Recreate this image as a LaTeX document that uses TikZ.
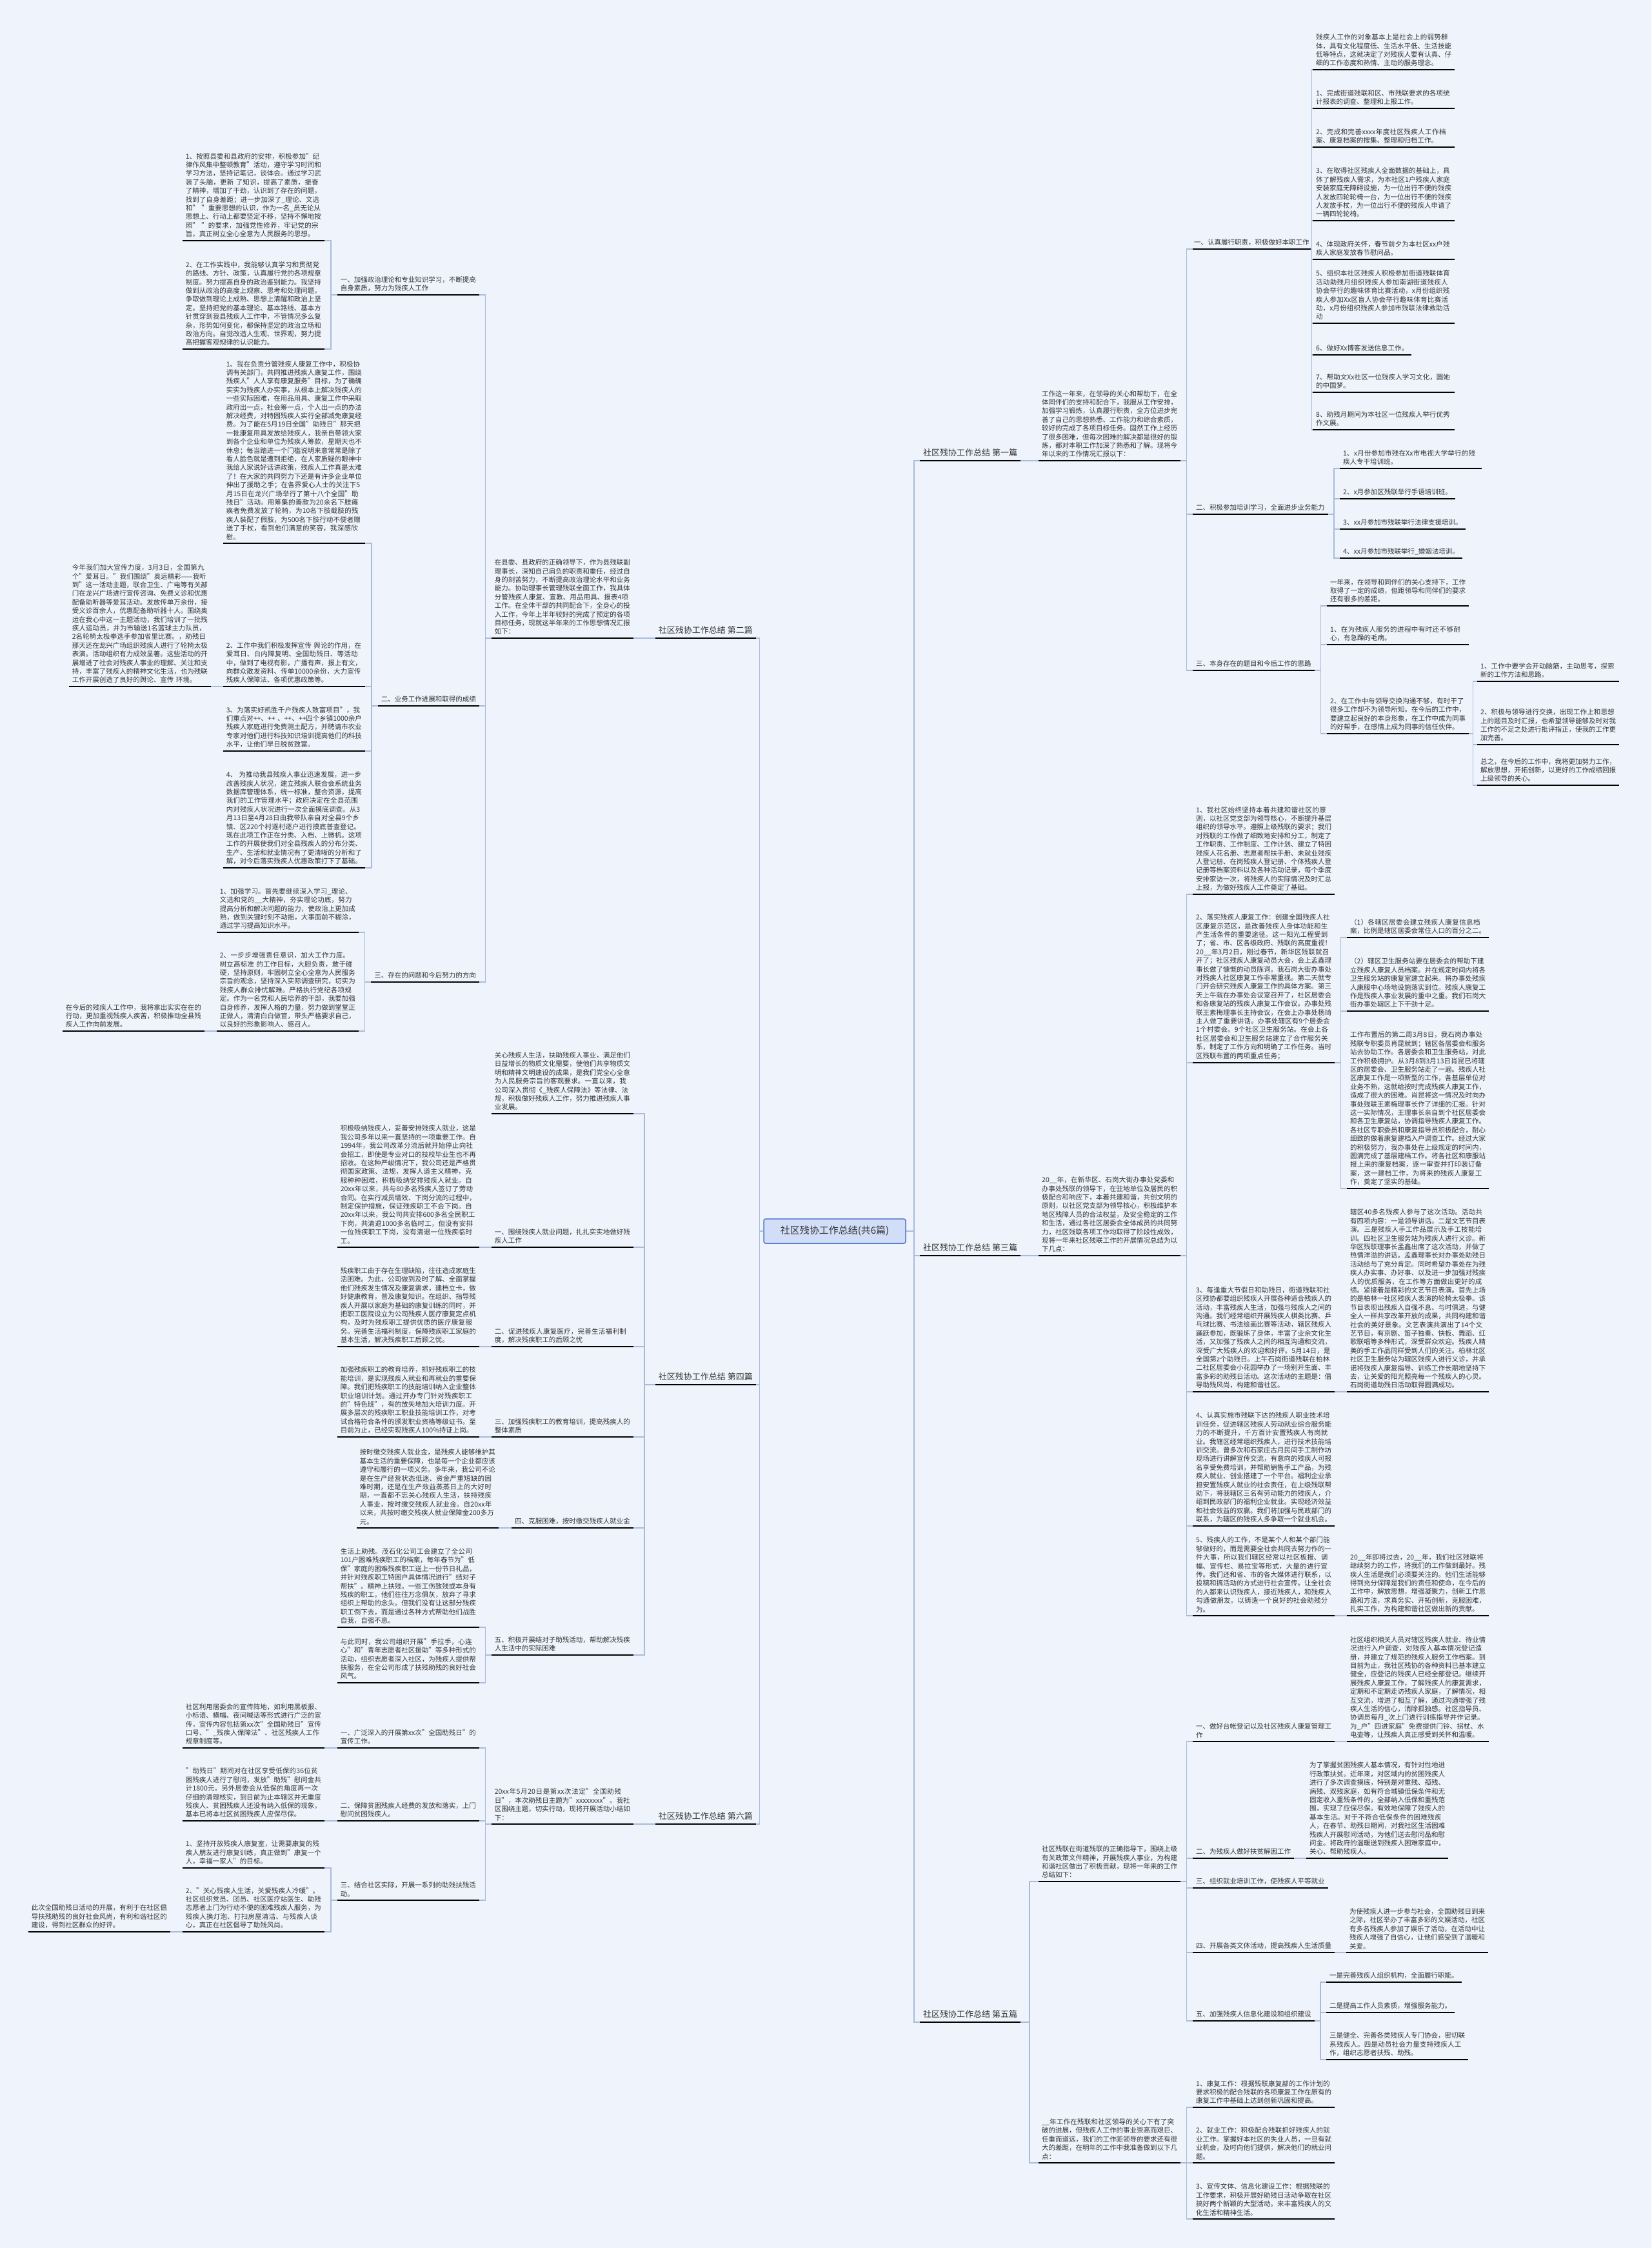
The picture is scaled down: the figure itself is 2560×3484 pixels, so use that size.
\documentclass[tikz,border=0pt]{standalone}
\usepackage{fontspec}
\setmainfont{Noto Sans CJK SC}
\usetikzlibrary{calc}
\XeTeXlinebreaklocale "zh"
\XeTeXlinebreakskip = 0pt plus 1pt
\definecolor{bgc}{RGB}{239,243,251}
\definecolor{txtc}{RGB}{51,51,51}
\definecolor{connc}{RGB}{168,188,218}
\definecolor{ctrfill}{RGB}{210,222,248}
\definecolor{ctrdraw}{RGB}{80,115,205}
\newcommand\cnx[2]{\draw[conn] let \p1=(#1.south east), \p2=(#2.south west) in (\p1) -- ({(\x1+\x2)/2},\y1) -- ({(\x1+\x2)/2},\y2) -- (\p2);}
\tikzset{
 ulline/.style={draw=black,line width=2.4pt,line cap=butt},
 ul/.style={append after command={(\tikzlastnode.south west) edge[ulline] (\tikzlastnode.south east)}},
 base/.style={font=\fontsize{10.5}{13.4}\selectfont, text=txtc, inner xsep=5pt, inner ysep=5pt, align=left},
 blk/.style={base, text width=210pt, ul},
 sht/.style={base, ul},
 brn/.style={font=\fontsize{13}{16}\selectfont, text=txtc, inner xsep=5pt, inner ysep=6pt, ul},
 conn/.style={draw=connc, line width=1.5pt},
 ctr/.style={font=\fontsize{15}{18}\selectfont, text=txtc, fill=ctrfill, draw=ctrdraw, line width=1.5pt, rounded corners=3pt, minimum width=220pt, minimum height=38pt, inner sep=4pt},
}
\begin{document}
\begin{tikzpicture}[x=1pt,y=-1pt]
\fill[bgc] (0,0) rectangle (2560,3484);
\useasboundingbox (0,0) rectangle (2560,3484);

\node[ctr] (ctr) at (1294,1908) {社区残协工作总结(共6篇)};

% ===== 第二篇 =====
\node[brn, anchor=south east] (b2) at (1172,989) {社区残协工作总结 第二篇};
\node[blk, anchor=south east] (i2) at (982,989) {在县委、县政府的正确领导下，作为县残联副理事长，深知自己肩负的职责和重任，经过自身的刻苦努力，不断提高政治理论水平和业务能力。协助理事长管理残联全面工作，我具体分管残疾人康复、宣教、用品用具、报表4项工作。在全体干部的共同配合下，全身心的投入工作，今年上半年较好的完成了预定的各项目标任务，现就这半年来的工作思想情况汇报如下：};
\node[blk, anchor=south east] (l2a) at (743,457) {一、加强政治理论和专业知识学习，不断提高自身素质，努力为残疾人工作};
\node[blk, anchor=south east] (l2a1) at (503,373) {1、按照县委和县政府的安排，积极参加"纪律作风集中整顿教育"活动，遵守学习时间和学习方法，坚持记笔记，谈体会。通过学习武装了头脑，更新 了知识，提高了素质，振奋了精神，增加了干劲，认识到了存在的问题，找到了自身差距；进一步加深了\_理论、文选和" "重要思想的认识，作为一名\_员无论从思想上、行动上都要坚定不移，坚持不懈地按照" "的要求，加强党性修养，牢记党的宗旨，真正树立全心全意为人民服务的思想。};
\node[blk, anchor=south east] (l2a2) at (503,541) {2、在工作实践中，我能够认真学习和贯彻党的路线、方针、政策，认真履行党的各项规章制度。努力提高自身的政治鉴别能力。我坚持做到从政治的高度上观察、思考和处理问题，争取做到理论上成熟、思想上清醒和政治上坚定。坚持把党的基本理论、基本路线、基本方针贯穿到我县残疾人工作中，不管情况多么复杂，形势如何变化，都保持坚定的政治立场和政治方向。自觉改造人生观、世界观，努力提高把握客观规律的认识能力。};
\node[sht, anchor=south east] (l2b) at (743,1094) {二、业务工作进展和取得的成绩};
\node[blk, anchor=south east] (l2b1) at (566,842) {1、我在负责分管残疾人康复工作中，积极协调有关部门，共同推进残疾人康复工作，围绕残疾人"人人享有康复服务"目标，为了确确实实为残疾人办实事，从根本上解决残疾人的一些实际困难，在用品用具、康复工作中采取政府出一点，社会筹一点，个人出一点的办法解决经费，对特困残疾人实行全部减免康复经费。为了能在5月19日全国"助残日"那天把一批康复用具发放给残疾人，我亲自带领大家到各个企业和单位为残疾人筹款，星期天也不休息；每当踏进一个门槛说明来意常常是除了看人脸色就是遭到拒绝，在人家质疑的眼神中我给人家说好话讲政策，残疾人工作真是太难了！在大家的共同努力下还是有许多企业单位伸出了援助之手；在各界爱心人士的关注下5月15日在龙兴广场举行了第十八个全国"助残日"活动。用筹集的善款为20余名下肢瘫痪者免费发放了轮椅，为10名下肢截肢的残疾人装配了假肢，为500名下肢行动不便者赠送了手杖，看到他们满意的笑容，我深感欣慰。};
\node[blk, anchor=south east] (l2b2) at (566,1064) {2、工作中我们积极发挥宣传 舆论的作用，在爱耳日、白内障复明、全国助残日、等活动中，做到了电视有影，广播有声，报上有文，向群众散发资料、传单10000余份，大力宣传残疾人保障法、各项优惠政策等。};
\node[blk, anchor=south east] (l2b2a) at (327,1064) {今年我们加大宣传力度，3月3日，全国第九个"爱耳日。"我们围绕"奥运精彩——我听到"这一活动主题，联合卫生、广电等有关部门在龙兴广场进行宣传咨询、免费义诊和优惠配备助听器等爱耳活动。发放传单万余份，接受义诊百余人，优惠配备助听器十人。围绕奥运在我心中这一主题活动，我们培训了一批残疾人运动员，并为市输送1名篮球主力队员，2名轮椅太极拳选手参加省里比赛。，助残日那天还在龙兴广场组织残疾人进行了轮椅太极表演。活动组织有力成效显著。这些活动的开展增进了社会对残疾人事业的理解、关注和支持，丰富了残疾人的精神文化生活，也为残联工作开展创造了良好的舆论、宣传 环境。};
\node[blk, anchor=south east] (l2b3) at (566,1164) {3、为落实好凯胜千户残疾人致富项目"，我们重点对++、++ 、++、++四个乡镇1000余户残疾人家庭进行免费测土配方，并聘请市农业专家对他们进行科技知识培训提高他们的科技水平，让他们早日脱贫致富。};
\node[blk, anchor=south east] (l2b4) at (566,1345) {4、 为推动我县残疾人事业迅速发展，进一步改善残疾人状况，建立残疾人联合会系统业务数据库管理体系，统一标准，整合资源，提高我们的工作管理水平；政府决定在全县范围内对残疾人状况进行一次全面摸底调查。从3月13日至4月28日由我带队亲自对全县9个乡镇、区220个村逐村逐户进行摸底普查登记。现在此项工作正在分类、入档、上微机。这项工作的开展使我们对全县残疾人的分布分类、生产、生活和就业情况有了更清晰的分析和了解，对今后落实残疾人优惠政策打下了基础。};
\node[sht, anchor=south east] (l2c) at (743,1522) {三、存在的问题和今后努力的方向};
\node[blk, anchor=south east] (l2c1) at (556,1445) {1、加强学习。首先要继续深入学习\_理论、文选和党的\_\_大精神，夯实理论功底，努力提高分析和解决问题的能力，使政治上更加成熟，做到关键时刻不动摇，大事面前不糊涂，通过学习提高知识水平。};
\node[blk, anchor=south east] (l2c2) at (556,1598) {2、一步步增强责任意识，加大工作力度。树立高标准 的工作目标，大胆负责，敢于碰硬，坚持原则，牢固树立全心全意为人民服务宗旨的观念，坚持深入实际调查研究，切实为残疾人群众排忧解难。严格执行党纪各项规定。作为一名党和人民培养的干部，我要加强自身修养，发挥人格的力量，努力做到堂堂正正做人，清清白白做官，带头严格要求自己，以良好的形象影响人、感召人。};
\node[blk, anchor=south east] (l2c2a) at (317,1598) {在今后的残疾人工作中，我将拿出实实在在的行动，更加重视残疾人疾苦，积极推动全县残疾人工作向前发展。};
\cnx{l2a1}{l2a}\cnx{l2a2}{l2a}
\cnx{l2b1}{l2b}\cnx{l2b2}{l2b}\cnx{l2b3}{l2b}\cnx{l2b4}{l2b}\cnx{l2b2a}{l2b2}
\cnx{l2c1}{l2c}\cnx{l2c2}{l2c}\cnx{l2c2a}{l2c2}
\cnx{l2a}{i2}\cnx{l2b}{i2}\cnx{l2c}{i2}\cnx{i2}{b2}

% ===== 第四篇 =====
\node[brn, anchor=south east] (b4) at (1172,2146) {社区残协工作总结 第四篇};
\node[blk, anchor=south east] (i4) at (982,1726) {关心残疾人生活，扶助残疾人事业，满足他们日益增长的物质文化需要，使他们共享物质文明和精神文明建设的成果，是我们党全心全意为人民服务宗旨的客观要求。一直以来，我公司深入贯彻《\_残疾人保障法》等法律、法规，积极做好残疾人工作，努力推进残疾人事业发展。};
\node[blk, anchor=south east] (l4a) at (982,1933) {一、围绕残疾人就业问题，扎扎实实地做好残疾人工作};
\node[blk, anchor=south east] (l4a1) at (743,1933) {积极吸纳残疾人，妥善安排残疾人就业，这是我公司多年以来一直坚持的一项重要工作。自1994年，我公司改革分流后就开始停止向社会招工，即使是专业对口的技校毕业生也不再招收。在这种严峻情况下，我公司还是严格贯彻国家政策、法规，发挥人道主义精神，克服种种困难，积极吸纳安排残疾人就业。自20xx年以来，共与80多名残疾人签订了劳动合同。在实行减员增效、下岗分流的过程中，制定保护措施，保证残疾职工不会下岗。自20xx年以来，我公司共安排600多名全民职工下岗，共清退1000多名临时工，但没有安排一位残疾职工下岗，没有清退一位残疾临时工。};
\node[blk, anchor=south east] (l4b) at (982,2087) {二、促进残疾人康复医疗，完善生活福利制度，解决残疾职工的后顾之忧};
\node[blk, anchor=south east] (l4b1) at (743,2087) {残疾职工由于存在生理缺陷，往往造成家庭生活困难。为此，公司做到及时了解、全面掌握他们残疾发生情况及康复需求，建档立卡，做好健康教育，普及康复知识。在组织、指导残疾人开展以家庭为基础的康复训练的同时，并把职工医院设立为公司残疾人医疗康复定点机构，及时为残疾职工提供优质的医疗康复服务。完善生活福利制度，保障残疾职工家庭的基本生活，解决残疾职工后顾之忧。};
\node[blk, anchor=south east] (l4c) at (982,2227) {三、加强残疾职工的教育培训，提高残疾人的整体素质};
\node[blk, anchor=south east] (l4c1) at (743,2227) {加强残疾职工的教育培养，抓好残疾职工的技能培训，是实现残疾人就业和再就业的重要保障。我们把残疾职工的技能培训纳入企业整体职业培训计划。通过开办专门针对残疾职工的"特色班"，有的放矢地加大培训力度。开展多层次的残疾职工职业技能培训工作，对考试合格符合条件的颁发职业资格等级证书。至目前为止，已经实现残疾人100\%持证上岗。};
\node[sht, anchor=south east] (l4d) at (982,2368) {四、克服困难，按时缴交残疾人就业金};
\node[blk, anchor=south east] (l4d1) at (773,2368) {按时缴交残疾人就业金，是残疾人能够维护其基本生活的重要保障，也是每一个企业都应该遵守和履行的一项义务。多年来，我公司不论是在生产经营状态低迷、资金严重短缺的困难时期，还是在生产效益蒸蒸日上的大好时期，一直都不忘关心残疾人生活，扶持残疾人事业，按时缴交残疾人就业金。自20xx年以来，共按时缴交残疾人就业保障金200多万元。};
\node[blk, anchor=south east] (l4e) at (982,2565) {五、积极开展结对子助残活动，帮助解决残疾人生活中的实际困难};
\node[blk, anchor=south east] (l4e1) at (743,2522) {生活上助残。茂石化公司工会建立了全公司101户困难残疾职工的档案，每年春节为"低保"家庭的困难残疾职工送上一份节日礼品，并针对残疾职工特困户具体情况进行"结对子帮扶"。精神上扶残。一些工伤致残或本身有残疾的职工，他们往往万念俱灰，放弃了寻求组织上帮助的念头。但我们没有让这部分残疾职工倒下去，而是通过各种方式帮助他们战胜自我，自强不息。};
\node[blk, anchor=south east] (l4e2) at (743,2608) {与此同时，我公司组织开展"手拉手，心连心"和"青年志愿者社区援助"等多种形式的活动，组织志愿者深入社区，为残疾人提供帮扶服务，在全公司形成了扶残助残的良好社会风气。};
\cnx{l4a1}{l4a}\cnx{l4b1}{l4b}\cnx{l4c1}{l4c}\cnx{l4d1}{l4d}\cnx{l4e1}{l4e}\cnx{l4e2}{l4e}
\cnx{i4}{b4}\cnx{l4a}{b4}\cnx{l4b}{b4}\cnx{l4c}{b4}\cnx{l4d}{b4}\cnx{l4e}{b4}

% ===== 第六篇 =====
\node[brn, anchor=south east] (b6) at (1172,2827) {社区残协工作总结 第六篇};
\node[blk, anchor=south east] (i6) at (982,2827) {20xx年5月20日是第xx次法定"全国助残日"，本次助残日主题为"xxxxxxxx"。我社区围绕主题，切实行动，现将开展活动小结如下：};
\node[blk, anchor=south east] (l6a) at (743,2709) {一、广泛深入的开展第xx次"全国助残日"的宣传工作。};
\node[blk, anchor=south east] (l6a1) at (503,2709) {社区利用居委会的宣传阵地，如利用黑板报、小标语、横幅、夜间喊话等形式进行广泛的宣传，宣传内容包括第xx次"全国助残日"宣传口号、"\_残疾人保障法"、社区残疾人工作规章制度等。};
\node[blk, anchor=south east] (l6b) at (743,2822) {二、保障贫困残疾人经费的发放和落实，上门慰问贫困残疾人。};
\node[blk, anchor=south east] (l6b1) at (503,2822) {"助残日"期间对在社区享受低保的36位贫困残疾人进行了慰问，发放"助残"慰问金共计1800元。另外居委会从低保的角度再一次仔细的清理核实，到目前为止本辖区并无重度残疾人、贫困残疾人还没有纳入低保的现象，基本已将本社区贫困残疾人应保尽保。};
\node[blk, anchor=south east] (l6c) at (743,2945) {三、结合社区实际，开展一系列的助残扶残活动。};
\node[blk, anchor=south east] (l6c1) at (503,2895) {1、坚持开放残疾人康复室，让需要康复的残疾人朋友进行康复训练，真正做到"康复一个人，幸福一家人"的目标。};
\node[blk, anchor=south east] (l6c2) at (503,2994) {2、"关心残疾人生活，关爱残疾人冷暖"。社区组织党员、团员、社区医疗站医生、助残志愿者上门为行动不便的困难残疾人服务，为残疾人换灯泡、打扫房屋清洁、与残疾人谈心，真正在社区倡导了助残风尚。};
\node[blk, anchor=south east] (l6c2a) at (264,2994) {此次全国助残日活动的开展，有利于在社区倡导扶残助残的良好社会风尚，有利和谐社区的建设，得到社区群众的好评。};
\cnx{l6a1}{l6a}\cnx{l6b1}{l6b}\cnx{l6c1}{l6c}\cnx{l6c2}{l6c}\cnx{l6c2a}{l6c2}
\cnx{l6a}{i6}\cnx{l6b}{i6}\cnx{l6c}{i6}\cnx{i6}{b6}

% ===== 第一篇 =====
\node[brn, anchor=south west] (b1) at (1426,714) {社区残协工作总结 第一篇};
\node[blk, anchor=south west] (i1) at (1610,714) {工作这一年来，在领导的关心和帮助下，在全体同伴们的支持和配合下，我服从工作安排，加强学习锻炼，认真履行职责，全方位进步完善了自己的思想熟悉、工作能力和综合素质，较好的完成了各项目标任务。固然工作上经历了很多困难，但每次困难的解决都是很好的锻炼，都对本职工作加深了熟悉和了解。现将今年以来的工作情况汇报以下：};
\node[sht, anchor=south west, inner xsep=2pt] (r1a) at (1849,386) {一、认真履行职责，积极做好本职工作};
\node[blk, anchor=south west] (r1a0) at (2035,108) {残疾人工作的对象基本上是社会上的弱势群体，具有文化程度低、生活水平低、生活技能低等特点，这就决定了对残疾人要有认真、仔细的工作态度和热情、主动的服务理念。};
\node[blk, anchor=south west] (r1a1) at (2035,168) {1、完成街道残联和区、市残联要求的各项统计报表的调查、整理和上报工作。};
\node[blk, anchor=south west] (r1a2) at (2035,228) {2、完成和完善xxxx年度社区残疾人工作档案、康复档案的搜集、整理和归档工作。};
\node[blk, anchor=south west] (r1a3) at (2035,342) {3、在取得社区残疾人全面数据的基础上，具体了解残疾人需求，为本社区1户残疾人家庭安装家庭无障碍设施，为一位出行不便的残疾人发放四轮轮椅一台，为一位出行不便的残疾人发放手杖，为一位出行不便的残疾人申请了一辆四轮轮椅。};
\node[blk, anchor=south west] (r1a4) at (2035,402) {4、体现政府关怀，春节前夕为本社区xx户残疾人家庭发放春节慰问品。};
\node[blk, anchor=south west] (r1a5) at (2035,501) {5、组织本社区残疾人积极参加街道残联体育活动助残月组织残疾人参加南湖街道残疾人协会举行的趣味体育比赛活动，x月份组织残疾人参加Xx区盲人协会举行趣味体育比赛活动，x月份组织残疾人参加市残联法律救助活动};
\node[sht, anchor=south west] (r1a6) at (2035,550) {6、做好Xx博客发送信息工作。};
\node[blk, anchor=south west] (r1a7) at (2035,608) {7、帮助文Xx社区一位残疾人学习文化，圆她的中国梦。};
\node[blk, anchor=south west] (r1a8) at (2035,666) {8、助残月期间为本社区一位残疾人举行优秀作文展。};
\node[sht, anchor=south west] (r1b) at (1849,797) {二、积极参加培训学习，全面进步业务能力};
\node[blk, anchor=south west] (r1b1) at (2077,726) {1、x月份参加市残在Xx市电视大学举行的残疾人专干培训班。};
\node[sht, anchor=south west] (r1b2) at (2077,773) {2、x月参加区残联举行手语培训班。};
\node[sht, anchor=south west] (r1b3) at (2077,820) {3、xx月参加市残联举行法律支援培训。};
\node[sht, anchor=south west] (r1b4) at (2077,865) {4、xx月参加市残联举行\_婚姻法培训。};
\node[sht, anchor=south west] (r1c) at (1849,1039) {三、本身存在的题目和今后工作的思路};
\node[blk, anchor=south west] (r1c1) at (2057,939) {一年来，在领导和同伴们的关心支持下，工作取得了一定的成绩，但距领导和同伴们的要求还有很多的差距。};
\node[blk, anchor=south west] (r1c2) at (2057,999) {1、在为残疾人服务的进程中有时还不够耐心，有急躁的毛病。};
\node[blk, anchor=south west] (r1c3) at (2057,1137) {2、在工作中与领导交换沟通不够，有时干了很多工作却不为领导所知。在今后的工作中，要建立起良好的本身形象，在工作中成为同事的好帮手，在感情上成为同事的信任伙伴。};
\node[blk, anchor=south west] (r1c3a) at (2290,1056) {1、工作中要学会开动脑筋，主动思考，探索新的工作方法和思路。};
\node[blk, anchor=south west] (r1c3b) at (2290,1154) {2、积极与领导进行交换，出现工作上和思想上的题目及时汇报，也希望领导能够及时对我工作的不足之处进行批评指正，使我的工作更加完善。};
\node[blk, anchor=south west] (r1c3c) at (2290,1217) {总之，在今后的工作中，我将更加努力工作，解放思想，开拓创新，以更好的工作成绩回报上级领导的关心。};
\cnx{b1}{i1}\cnx{i1}{r1a}\cnx{i1}{r1b}\cnx{i1}{r1c}
\cnx{r1a}{r1a0}\cnx{r1a}{r1a1}\cnx{r1a}{r1a2}\cnx{r1a}{r1a3}\cnx{r1a}{r1a4}\cnx{r1a}{r1a5}\cnx{r1a}{r1a6}\cnx{r1a}{r1a7}\cnx{r1a}{r1a8}
\cnx{r1b}{r1b1}\cnx{r1b}{r1b2}\cnx{r1b}{r1b3}\cnx{r1b}{r1b4}
\cnx{r1c}{r1c1}\cnx{r1c}{r1c2}\cnx{r1c}{r1c3}
\cnx{r1c3}{r1c3a}\cnx{r1c3}{r1c3b}\cnx{r1c3}{r1c3c}

% ===== 第三篇 =====
\node[brn, anchor=south west] (b3) at (1426,1946) {社区残协工作总结 第三篇};
\node[blk, anchor=south west] (i3) at (1610,1946) {20\_\_年，在新华区、石岗大街办事处党委和办事处残联的领导下，在驻地单位及居民的积极配合和响应下，本着共建和谐，共创文明的原则，以社区党支部为领导核心，积极维护本地区残障人员的合法权益，及安全稳定的工作和生活，通过各社区居委会全体成员的共同努力，社区残联各项工作均取得了阶段性成效，现将一年来社区残联工作的开展情况总结为以下几点：};
\node[blk, anchor=south west] (r3a) at (1849,1386) {1、我社区始终坚持本着共建和谐社区的原则，以社区党支部为领导核心，不断提升基层组织的领导水平。遵照上级残联的要求；我们对残联的工作做了细致地安排和分工，制定了工作职责、工作制度、工作计划、建立了特困残疾人花名册、志愿者帮扶手册、未就业残疾人登记册、在岗残疾人登记册、个体残疾人登记册等档案资料以及各种活动记录，每个季度安排家访一次，将残疾人的实际情况及时汇总上报，为做好残疾人工作奠定了基础。};
\node[blk, anchor=south west] (r3b) at (1849,1647) {2、落实残疾人康复工作：创建全国残疾人社区康复示范区，是改善残疾人身体功能和生产生活条件的重要途径。这一阳光工程受到了；省、市、区各级政府、残联的高度重视！20\_\_年3月2日，刚过春节，新华区残联就召开了；社区残疾人康复动员大会，会上孟鑫理事长做了慷慨的动员陈词。我石岗大街办事处对残疾人社区康复工作非常重视。第二天就专门开会研究残疾人康复工作的具体方案。第三天上午就在办事处会议室召开了，社区居委会和各康复站的残疾人康复工作会议。办事处残联王素梅理事长主持会议，在会上办事处杨琦主人做了重要讲话。办事处辖区有9个居委会1个村委会。9个社区卫生服务站。在会上各社区居委会和卫生服务站建立了合作服务关系，制定了工作方向和明确了工作任务。当时区残联布置的两项重点任务；};
\node[blk, anchor=south west] (r3b1) at (2088,1453) {（1）各辖区居委会建立残疾人康复信息档案，比例是辖区居委会常住人口的百分之二。};
\node[blk, anchor=south west] (r3b2) at (2088,1567) {（2）辖区卫生服务站要在居委会的帮助下建立残疾人康复人员档案。并在规定时间内将各卫生服务站的康复室建立起来。将办事处残疾人康服中心场地设施落实到位。残疾人康复工作是残疾人事业发展的重中之重。我们石岗大街办事处辖区上下干劲十足。};
\node[blk, anchor=south west] (r3b3) at (2088,1842) {工作布置后的第二周3月8日，我石岗办事处残联专职委员肖昆就到；辖区各居委会和服务站去协助工作。各居委会和卫生服务站，对此工作积极拥护。从3月8到3月13日肖昆已将辖区的居委会、卫生服务站走了一遍。残疾人社区康复工作是一项新型的工作，各基层单位对业务不熟，这就给按时完成残疾人康复工作，造成了很大的困难。肖昆将这一情况及时向办事处残联王素梅理事长作了详细的汇报。针对这一实际情况，王理事长亲自到个社区居委会和各卫生康复站，协调指导残疾人康复工作。各社区专职委员和康复指导员积极配合，耐心细致的做着康复建档入户调查工作。经过大家的积极努力，我办事处在上级规定的时间内，圆满完成了基层建档工作。将各社区和康服站报上来的康复档案，逐一审查并打印装订备案，这一建档工作，为将来的残疾人康复工作，奠定了坚实的基础。};
\node[blk, anchor=south west] (r3c) at (1849,2157) {3、每逢重大节假日和助残日，街道残联和社区残协都要组织残疾人开展各种适合残疾人的活动，丰富残疾人生活，加强与残疾人之间的沟通。我们经常组织开展残疾人棋类比赛、乒乓球比赛、书法绘画比赛等活动，辖区残疾人踊跃参加，既锻炼了身体，丰富了业余文化生活，又加强了残疾人之间的相互沟通和交流，深受广大残疾人的欢迎和好评。5月14日，是全国第z个助残日。上午石岗街道残联在柏林二社区居委会小花园举办了一场别开生面、丰富多彩的助残日活动。这次活动的主题是：倡导助残风尚，构建和谐社区。};
\node[blk, anchor=south west] (r3c1) at (2088,2157) {辖区40多名残疾人参与了这次活动。活动共有四项内容：一是领导讲话。二是文艺节目表演。三是残疾人手工作品展示及手工技能培训。四社区卫生服务站为残疾人进行义诊。新华区残联理事长孟鑫出席了这次活动，并做了热情洋溢的讲话。孟鑫理事长对办事处助残日活动给与了充分肯定。同时希望办事处在为残疾人办实事、办好事、以及进一步加强对残疾人的优质服务，在工作等方面做出更好的成绩。紧接着是精彩的文艺节目表演。首先上场的是柏林一社区残疾人表演的轮椅太极拳。该节目表现出残疾人自强不息、与时俱进，与健全人一样共享改革开放的成果，共同构建和谐社会的美好景象。文艺表演共演出了14个文艺节目，有京剧、笛子独奏、快板、舞蹈、红歌联唱等多种形式，深受群众欢迎。残疾人精美的手工作品同样受到人们的关注。柏林北区社区卫生服务站为辖区残疾人进行义诊，并承诺将残疾人康复指导、训练工作长期地坚持下去，让关爱的阳光照亮每一个残疾人的心灵。石岗街道助残日活动取得圆满成功。};
\node[blk, anchor=south west] (r3d) at (1849,2365) {4、认真实施市残联下达的残疾人职业技术培训任务，促进辖区残疾人劳动就业综合服务能力的不断提升，千方百计安置残疾人有岗就业。我辖区经常组织残疾人，进行技术技能培训交流。曾多次和石家庄古月民间手工制作坊现场进行讲解宣传交流，有意向的残疾人可报名享受免费培训，并帮助销售手工产品，为残疾人就业、创业搭建了一个平台。福利企业承担安置残疾人就业的社会责任，在上级残联帮助下，将我辖区三名有劳动能力的残疾人，介绍到民政部门的福利企业就业。实现经济效益和社会效益的双赢。我们将加强与民政部门的联系，为辖区的残疾人多争取一个就业机会。};
\node[blk, anchor=south west] (r3e) at (1849,2504) {5、残疾人的工作，不是某个人和某个部门能够做好的，而是需要全社会共同去努力作的一件大事，所以我们辖区经常以社区板报、调幅、宣传栏、易拉宝等形式，大量的进行宣传。我们还和省、市的各大媒体进行联系，以投稿和搞活动的方式进行社会宣传。让全社会的人都来认识残疾人，接近残疾人，和残疾人勾通做朋友。以铸造一个良好的社会助残分为。};
\node[blk, anchor=south west] (r3e1) at (2088,2504) {20\_\_年即将过去，20\_\_年，我们社区残联将继续努力的工作，将我们的工作做到最好。残疾人生活是我们必须要关注的。他们生活能够得到充分保障是我们的责任和使命，在今后的工作中，解放思想，增强凝聚力，创新工作思路和方法，求真务实、开拓创新，克服困难，扎实工作，为构建和谐社区做出新的贡献。};
\cnx{b3}{i3}\cnx{i3}{r3a}\cnx{i3}{r3b}\cnx{i3}{r3c}\cnx{i3}{r3d}\cnx{i3}{r3e}
\cnx{r3b}{r3b1}\cnx{r3b}{r3b2}\cnx{r3b}{r3b3}\cnx{r3c}{r3c1}\cnx{r3e}{r3e1}

% ===== 第五篇 =====
\node[brn, anchor=south west] (b5) at (1426,3134) {社区残协工作总结 第五篇};
\node[blk, anchor=south west] (i5a) at (1610,2916) {社区残联在街道残联的正确指导下，围绕上级有关政策文件精神，开展残疾人事业，为构建和谐社区做出了积极贡献，现将一年来的工作总结如下：};
\node[blk, anchor=south west] (r5a) at (1849,2699) {一、做好台帐登记以及社区残疾人康复管理工作};
\node[blk, anchor=south west] (r5a1) at (2088,2699) {社区组织相关人员对辖区残疾人就业、待业情况进行入户调查，对残疾人基本情况登记造册，并建立了规范的残疾人服务工作档案。到目前为止，我社区残协的各种资料已基本建立健全，应登记的残疾人已经全部登记。继续开展残疾人康复工作，了解残疾人的康复需求，定期和不定期走访残疾人家庭，了解情况，相互交流，增进了相互了解，通过沟通增强了残疾人生活的信心，消除孤独感。社区指导员、协调员每月\_次上门进行训练指导并作记录。为\_户"四进家庭"免费提供门铃、拐杖、水电壶等，让残疾人真正感受到关怀和温暖。};
\node[sht, anchor=south west] (r5b) at (1849,2880) {二、为残疾人做好扶贫解困工作};
\node[blk, anchor=south west] (r5b1) at (2025,2880) {为了掌握贫困残疾人基本情况，有针对性地进行政策扶贫。近年来，对区域内的贫困残疾人进行了多次调查摸底，特别是对重残、孤残、病残、双残家庭，如有符合城镇低保条件和无固定收入重残条件的，全部纳入低保和重残范围，实现了应保尽保。有效地保障了残疾人的基本生活。对于不符合低保条件的困难残疾人，在春节、助残日期间，对我社区生活困难残疾人开展慰问活动，为他们送去慰问品和慰问金。将政府的温暖送到残疾人困难家庭中，关心、帮助残疾人。};
\node[sht, anchor=south west] (r5c) at (1849,2926) {三、组织就业培训工作，使残疾人平等就业};
\node[sht, anchor=south west] (r5d) at (1849,3026) {四、开展各类文体活动，提高残疾人生活质量};
\node[blk, anchor=south west] (r5d1) at (2087,3026) {为使残疾人进一步参与社会，全国助残日到来之际，社区举办了丰富多彩的文娱活动，社区有多名残疾人参加了娱乐了活动，在活动中让残疾人增强了自信心，让他们感受到了温暖和关爱。};
\node[sht, anchor=south west] (r5e) at (1849,3132) {五、加强残疾人信息化建设和组织建设};
\node[sht, anchor=south west] (r5e1) at (2056,3072) {一是完善残疾人组织机构，全面履行职能。};
\node[sht, anchor=south west] (r5e2) at (2056,3119) {二是提高工作人员素质，增强服务能力。};
\node[blk, anchor=south west] (r5e3) at (2056,3192) {三是健全、完善各类残疾人专门协会，密切联系残疾人。四是动员社会力量支持残疾人工作，组织志愿者扶残、助残。};
\node[blk, anchor=south west] (i5b) at (1610,3352) {\_\_年工作在残联和社区领导的关心下有了突破的进展，但残疾人工作的事业崇高而艰巨、任重而道远，我们的工作距领导的要求还有很大的差距，在明年的工作中我准备做到以下几点：};
\node[blk, anchor=south west] (r5f1) at (1849,3266) {1、康复工作：根据残联康复部的工作计划的要求积极的配合残联的各项康复工作在原有的康复工作中基础上达到创新巩固和提高。};
\node[blk, anchor=south west] (r5f2) at (1849,3352) {2、就业工作：积极配合残联抓好残疾人的就业工作。掌握好本社区的失业人员，一旦有就业机会，及时向他们提供，解决他们的就业问题。};
\node[blk, anchor=south west] (r5f3) at (1849,3439) {3、宣传文体、信息化建设工作：根据残联的工作要求，积极开展好助残日活动争取在社区搞好两个新颖的大型活动。来丰富残疾人的文化生活和精神生活。};
\cnx{b5}{i5a}\cnx{b5}{i5b}
\cnx{i5a}{r5a}\cnx{i5a}{r5b}\cnx{i5a}{r5c}\cnx{i5a}{r5d}\cnx{i5a}{r5e}
\cnx{r5a}{r5a1}\cnx{r5b}{r5b1}\cnx{r5d}{r5d1}
\cnx{r5e}{r5e1}\cnx{r5e}{r5e2}\cnx{r5e}{r5e3}
\cnx{i5b}{r5f1}\cnx{i5b}{r5f2}\cnx{i5b}{r5f3}

% ===== trunks =====
\draw[conn] (ctr.east) -- ++(12,0) |- (b1.south west);
\draw[conn] (ctr.east) -- ++(12,0) |- (b3.south west);
\draw[conn] (ctr.east) -- ++(12,0) |- (b5.south west);
\draw[conn] (ctr.west) -- ++(-6,0) |- (b2.south east);
\draw[conn] (ctr.west) -- ++(-6,0) |- (b4.south east);
\draw[conn] (ctr.west) -- ++(-6,0) |- (b6.south east);
\end{tikzpicture}
\end{document}
